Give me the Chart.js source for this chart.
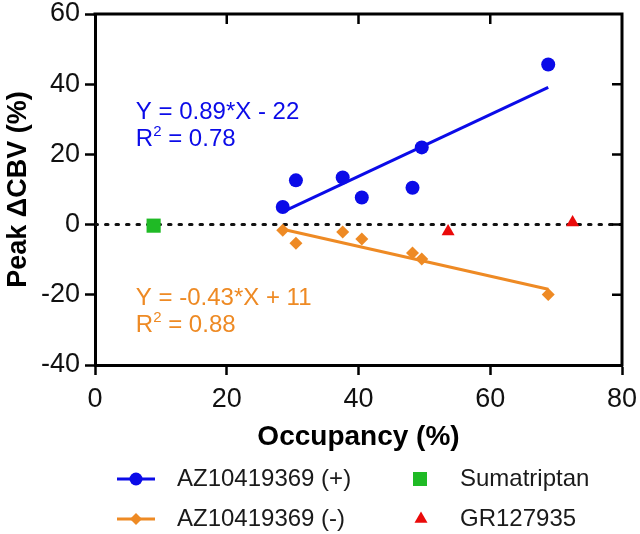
<!DOCTYPE html>
<html>
<head>
<meta charset="utf-8">
<script src="https://cdn.jsdelivr.net/npm/chart.js@4/dist/chart.umd.min.js"></script>
<style>
  html, body { margin: 0; padding: 0; background: #fff; }
  #wrap { width: 640px; height: 534px; }
</style>
</head>
<body>
<div id="wrap"><canvas id="myChart"></canvas></div>
<script>
/* DATA */

const seriesNames = ['AZ10419369 (+)', 'AZ10419369 (-)', 'Sumatriptan', 'GR127935'];

// AZ10419369, occupancy (%) and peak dCBV (%)
const azOcc = [28.5, 30.5, 37.6, 40.5, 48.2, 49.6, 68.8];
const azPlus = [5, 12.6, 13.4, 7.7, 10.5, 22, 45.6];
const azMinus = [-1.6, -5.3, -2.1, -4.1, -8.1, -9.8, -19.9];

const sumaOcc = [8.9];
const sumaCbv = [-0.3];

const grOcc = [53.6, 72.5];
const grCbv = [-2, 0.6];

// fitted lines, end points
const fitOcc = [28.5, 68.8];
const fitPlus = [3.6, 39.1];
const fitMinus = [-1.3, -18.4];

const zeroOcc = [0, 80];
const zeroCbv = [0, 0];

const fitTextPlus = ['Y = 0.89*X - 22', '0.78'];
const fitTextMinus = ['Y = -0.43*X + 11', '0.88'];

const xTicks = [0, 20, 40, 60, 80];
const yTicks = [-40, -20, 0, 20, 40, 60];

/* COLOURS */

const BLUE = '#0b0be8';
const ORANGE = '#ee8a24';
const GREEN = '#1fba25';
const RED = '#ea0a0a';
const FONT = "'Liberation Sans', Arial, Helvetica, sans-serif";

function pts(xs, ys) {
  return xs.map(function (x, i) { return { x: x, y: ys[i] }; });
}

/* PLUGIN: top/right frame with inward ticks, fit text, legend */

const extras = {
  id: 'extras',
  afterDraw: function (chart) {
    const c = chart.ctx;
    const a = chart.chartArea;
    const xs = chart.scales.x;
    const ys = chart.scales.y;

    // frame
    c.save();
    c.strokeStyle = '#000';
    c.lineWidth = 3;
    c.beginPath();
    c.moveTo(a.left - 1.5, a.top);
    c.lineTo(a.right, a.top);
    c.lineTo(a.right, a.bottom + 1.5);
    c.stroke();
    c.lineWidth = 2.5;
    c.beginPath();
    xTicks.slice(1, -1).forEach(function (v) {
      const px = xs.getPixelForValue(v);
      c.moveTo(px, a.top);
      c.lineTo(px, a.top + 10);
    });
    yTicks.slice(1, -1).forEach(function (v) {
      const py = ys.getPixelForValue(v);
      c.moveTo(a.right, py);
      c.lineTo(a.right - 10, py);
    });
    c.stroke();

    // fit equations
    function fitLabel(lines, col, xv, y1, y2) {
      const px = xs.getPixelForValue(xv);
      c.fillStyle = col;
      c.textBaseline = 'alphabetic';
      c.textAlign = 'left';
      c.font = '24px ' + FONT;
      c.fillText(lines[0], px, ys.getPixelForValue(y1));
      const by = ys.getPixelForValue(y2);
      c.fillText('R', px, by);
      const rw = c.measureText('R').width;
      c.font = '15px ' + FONT;
      c.fillText('2', px + rw, by - 10);
      const sw = c.measureText('2').width;
      c.font = '24px ' + FONT;
      c.fillText(' = ' + lines[1], px + rw + sw, by);
    }
    fitLabel(fitTextPlus, BLUE, 6.2, 30, 22.3);
    fitLabel(fitTextMinus, ORANGE, 6.2, -22.9, -30.6);

    // legend
    const rows = [479, 519];
    c.font = '24px ' + FONT;
    c.textBaseline = 'middle';
    c.fillStyle = '#1a1a1a';
    c.fillText(seriesNames[0], 177, rows[0]);
    c.fillText(seriesNames[1], 177, rows[1]);
    c.fillText(seriesNames[2], 460, rows[0]);
    c.fillText(seriesNames[3], 460, rows[1]);

    c.lineWidth = 3;
    c.strokeStyle = BLUE;
    c.beginPath(); c.moveTo(117, rows[0]); c.lineTo(155, rows[0]); c.stroke();
    c.fillStyle = BLUE;
    c.beginPath(); c.arc(136, rows[0], 6.5, 0, Math.PI * 2); c.fill();

    c.strokeStyle = ORANGE;
    c.beginPath(); c.moveTo(117, rows[1]); c.lineTo(155, rows[1]); c.stroke();
    c.fillStyle = ORANGE;
    c.beginPath();
    c.moveTo(136 - 6, rows[1]); c.lineTo(136, rows[1] - 6);
    c.lineTo(136 + 6, rows[1]); c.lineTo(136, rows[1] + 6);
    c.closePath(); c.fill();

    c.fillStyle = GREEN;
    c.fillRect(420 - 7, rows[0] - 7, 14, 14);

    c.fillStyle = RED;
    c.beginPath();
    c.moveTo(421, rows[1] - 7.5);
    c.lineTo(421 + 6.5, rows[1] + 3.75);
    c.lineTo(421 - 6.5, rows[1] + 3.75);
    c.closePath(); c.fill();
    c.restore();
  }
};

/* CHART */

const ctx = document.getElementById('myChart').getContext('2d');

const chart = new Chart(ctx, {
  type: 'scatter',
  data: {
    datasets: [
      {
        label: seriesNames[0],
        data: pts(azOcc, azPlus),
        pointStyle: 'circle',
        pointRadius: 7,
        backgroundColor: BLUE,
        borderWidth: 0,
        order: 1
      },
      {
        label: seriesNames[1],
        data: pts(azOcc, azMinus),
        pointStyle: 'rectRot',
        pointRadius: 6.5,
        backgroundColor: ORANGE,
        borderWidth: 0,
        order: 1
      },
      {
        label: seriesNames[2],
        data: pts(sumaOcc, sumaCbv),
        pointStyle: 'rect',
        pointRadius: 10,
        backgroundColor: GREEN,
        borderWidth: 0,
        order: 1
      },
      {
        label: seriesNames[3],
        data: pts(grOcc, grCbv),
        pointStyle: 'triangle',
        pointRadius: 7.5,
        backgroundColor: RED,
        borderWidth: 0,
        order: 1
      },
      {
        label: 'fit +',
        data: pts(fitOcc, fitPlus),
        showLine: true,
        pointRadius: 0,
        borderColor: BLUE,
        borderWidth: 3,
        order: 5
      },
      {
        label: 'fit -',
        data: pts(fitOcc, fitMinus),
        showLine: true,
        pointRadius: 0,
        borderColor: ORANGE,
        borderWidth: 3,
        order: 5
      },
      {
        label: 'zero',
        data: pts(zeroOcc, zeroCbv),
        showLine: true,
        pointRadius: 0,
        borderColor: '#111',
        borderWidth: 3,
        borderDash: [2.5, 8],
        borderCapStyle: 'round',
        order: 10
      }
    ]
  },
  options: {
    responsive: true,
    maintainAspectRatio: false,
    animation: false,
    layout: { padding: { top: 14, right: 18, left: 0, bottom: 80 } },
    plugins: {
      legend: { display: false },
      tooltip: { enabled: false }
    },
    scales: {
      x: {
        min: 0,
        max: 80,
        afterFit: function (s) { s.height = 89; s.paddingLeft = 0; s.paddingRight = 0; },
        afterBuildTicks: function (s) { s.ticks = xTicks.map(function (v) { return { value: v }; }); },
        border: { display: true, color: '#000', width: 3 },
        grid: { display: true, drawOnChartArea: false, drawTicks: true, tickLength: 10, tickWidth: 2.5, tickColor: '#000' },
        ticks: { color: '#111', padding: 8, font: { family: FONT, size: 27 } },
        title: { display: true, text: 'Occupancy (%)', color: '#000', padding: { top: 0, bottom: 0 }, font: { family: FONT, size: 28, weight: 'bold' } }
      },
      y: {
        min: -40,
        max: 60,
        afterFit: function (s) { s.width = 95; s.paddingTop = 0; s.paddingBottom = 0; },
        afterBuildTicks: function (s) { s.ticks = yTicks.map(function (v) { return { value: v }; }); },
        border: { display: true, color: '#000', width: 3 },
        grid: { display: true, drawOnChartArea: false, drawTicks: true, tickLength: 10, tickWidth: 2.5, tickColor: '#000' },
        ticks: { color: '#111', padding: 5, font: { family: FONT, size: 27 } },
        title: { display: true, text: 'Peak \u0394CBV (%)', color: '#000', padding: { top: 2, bottom: 0 }, font: { family: FONT, size: 27, weight: 'bold' } }
      }
    }
  },
  plugins: [extras]
});
</script>
</body>
</html>
